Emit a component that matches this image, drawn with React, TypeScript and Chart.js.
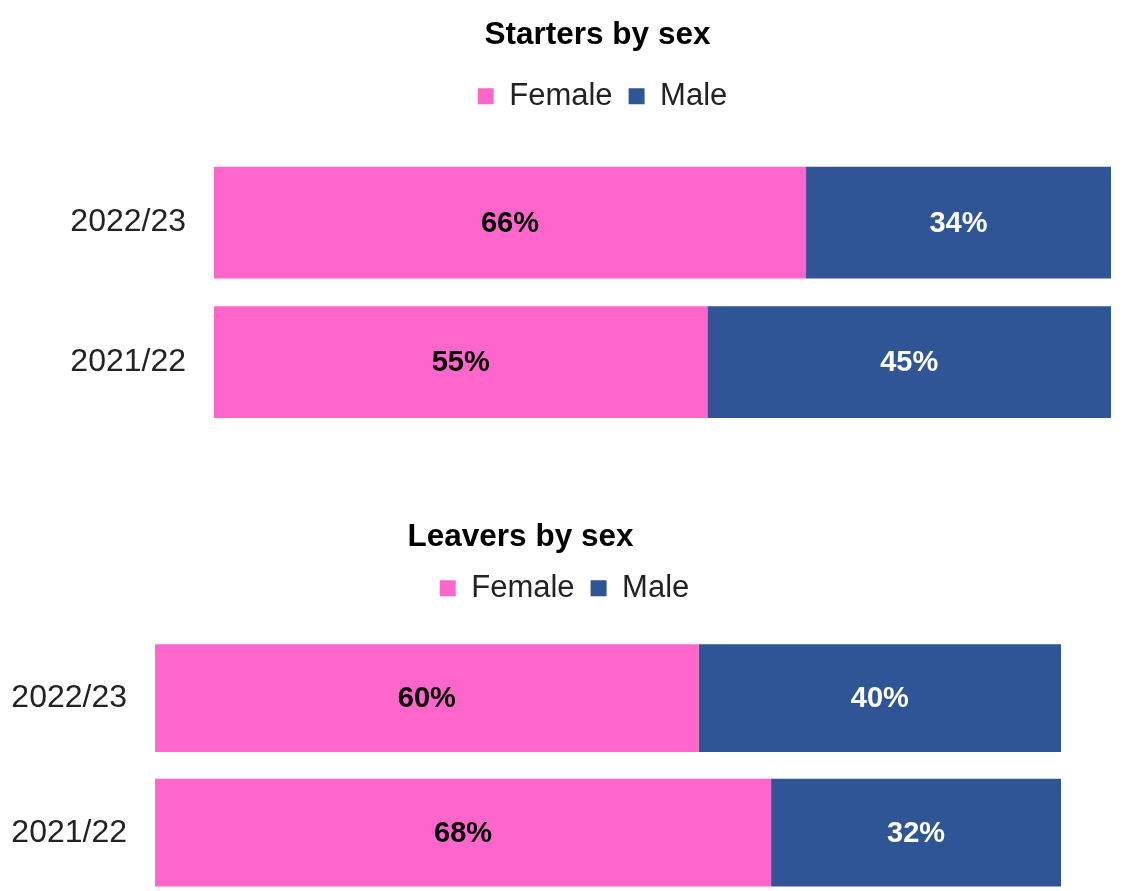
import React, { useEffect, useRef } from "react";
import { Chart, registerables } from "chart.js";

Chart.register(...registerables);

// ---- data ----
const years = ["2022/23", "2021/22"];
const seriesNames = ["Female", "Male"];
const startersFemale = [66, 55];
const startersMale = [34, 45];
const leaversFemale = [60, 68];
const leaversMale = [40, 32];
const startersTitle = "Starters by sex";
const leaversTitle = "Leavers by sex";

const PINK = "#FF66CC";
const BLUE = "#2F5597";
const FONT = '"Liberation Sans", Arial, sans-serif';
const TEXT = "#222222";

const barLabels = {
  id: "barLabels",
  afterDatasetsDraw(chart: any) {
    const ctx = chart.ctx;
    ctx.save();
    ctx.font = `bold 29px ${FONT}`;
    ctx.textAlign = "center";
    ctx.textBaseline = "middle";
    chart.data.datasets.forEach((ds: any, di: number) => {
      const meta = chart.getDatasetMeta(di);
      meta.data.forEach((el: any, i: number) => {
        const { x, base, y } = el.getProps(["x", "base", "y"], true);
        ctx.fillStyle = di === 0 ? "#000000" : "#ffffff";
        ctx.fillText(`${ds.data[i]}%`, (x + base) / 2, y + 1);
      });
    });
    ctx.restore();
  },
};

function boxTweaks(titleDx: number, legendDx: number, legendHeight: number) {
  return {
    id: "boxTweaks",
    beforeInit(chart: any) {
      const lg = chart.legend;
      if (lg) {
        const fit = lg.fit;
        lg.fit = function () {
          fit.call(this);
          this.height = legendHeight;
        };
      }
    },
    afterLayout(chart: any) {
      if (chart.titleBlock) {
        chart.titleBlock.left += titleDx;
        chart.titleBlock.right += titleDx;
      }
      if (chart.legend) {
        chart.legend.left += legendDx;
        chart.legend.right += legendDx;
      }
    },
  };
}

type Spec = {
  title: string;
  female: number[];
  male: number[];
  titlePad: { top: number; bottom: number };
  legendHeight: number;
  axisWidth: number;
  padRight: number;
  padBottom: number;
  titleDx: number;
  legendDx: number;
};

function makeConfig(s: Spec): any {
  return {
    type: "bar",
    data: {
      labels: years,
      datasets: [
        {
          label: seriesNames[0],
          data: s.female,
          backgroundColor: PINK,
          borderWidth: 0,
          barPercentage: 0.8,
          categoryPercentage: 1,
        },
        {
          label: seriesNames[1],
          data: s.male,
          backgroundColor: BLUE,
          borderWidth: 0,
          barPercentage: 0.8,
          categoryPercentage: 1,
        },
      ],
    },
    options: {
      indexAxis: "y",
      responsive: false,
      animation: false,
      events: [],
      layout: { padding: { left: 0, right: s.padRight, top: 0, bottom: s.padBottom } },
      scales: {
        x: { stacked: true, min: 0, max: 100, display: false },
        y: {
          stacked: true,
          grid: { display: false, drawTicks: false },
          border: { display: false },
          ticks: { font: { family: FONT, size: 32 }, color: TEXT, padding: 28 },
          afterFit(scale: any) {
            scale.width = s.axisWidth;
            scale.paddingTop = 0;
            scale.paddingBottom = 0;
          },
        },
      },
      plugins: {
        tooltip: { enabled: false },
        title: {
          display: true,
          text: s.title,
          color: "#000000",
          font: { family: FONT, size: 31.5, weight: "bold" },
          padding: s.titlePad,
        },
        legend: {
          display: true,
          position: "top",
          labels: {
            boxWidth: 16,
            boxHeight: 16,
            padding: 16,
            color: TEXT,
            font: { family: FONT, size: 31 },
          },
        },
      },
    },
    plugins: [barLabels, boxTweaks(s.titleDx, s.legendDx, s.legendHeight)],
  };
}

function ChartCanvas({ spec, top, height }: { spec: Spec; top: number; height: number }) {
  const ref = useRef<HTMLCanvasElement | null>(null);
  useEffect(() => {
    if (!ref.current) return;
    const chart = new Chart(ref.current, makeConfig(spec));
    return () => chart.destroy();
  }, []);
  return (
    <canvas
      ref={ref}
      width={1127}
      height={height}
      style={{ position: "absolute", left: 0, top, width: 1127, height, display: "block" }}
    />
  );
}

export default function App() {
  const topSpec: Spec = {
    title: startersTitle,
    female: startersFemale,
    male: startersMale,
    titlePad: { top: 16, bottom: 11 },
    legendHeight: 88,
    axisWidth: 214,
    padRight: 16,
    padBottom: 8,
    titleDx: 42,
    legendDx: 47,
  };
  const bottomSpec: Spec = {
    title: leaversTitle,
    female: leaversFemale,
    male: leaversMale,
    titlePad: { top: 38, bottom: 1 },
    legendHeight: 74,
    axisWidth: 155,
    padRight: 66,
    padBottom: 0,
    titleDx: -10,
    legendDx: 34,
  };
  return (
    <div
      style={{
        position: "fixed",
        left: 0,
        top: 0,
        width: 1127,
        height: 891,
        overflow: "hidden",
        background: "#ffffff",
      }}
    >
      <ChartCanvas spec={topSpec} top={0} height={440} />
      <ChartCanvas spec={bottomSpec} top={480} height={420} />
    </div>
  );
}
